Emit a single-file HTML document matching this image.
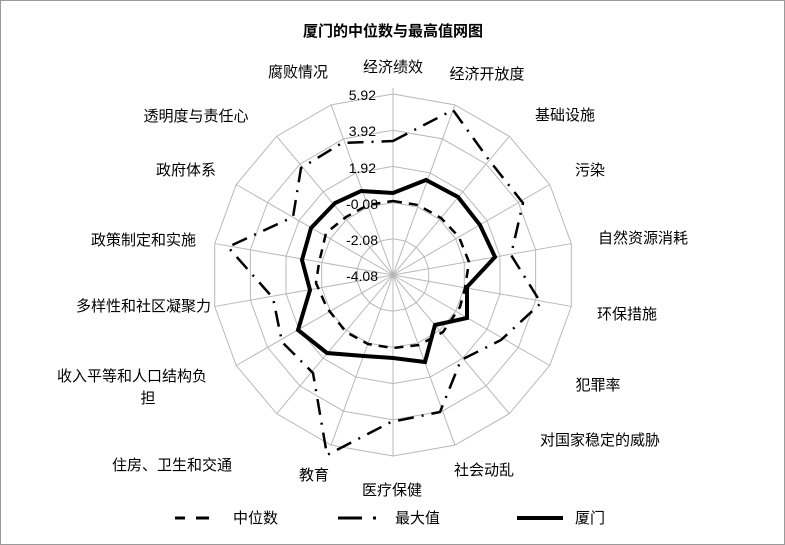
<!DOCTYPE html>
<html><head><meta charset="utf-8"><style>
html,body{margin:0;padding:0;background:#fff;}
svg{display:block;}
text{font-family:"Liberation Sans","Noto Sans CJK SC",sans-serif;fill:#000;}
</style></head><body>
<svg width="785" height="545" viewBox="0 0 785 545" xmlns="http://www.w3.org/2000/svg">
<rect x="0.5" y="0.5" width="784" height="544" fill="#fff" stroke="#999" stroke-width="1"/>
<text x="393" y="36" text-anchor="middle" font-size="15" font-weight="bold">厦门的中位数与最高值网图</text>
<g transform="translate(393,275)" fill="none" stroke="#b8b8b8" stroke-width="1">
<line x1="0" y1="0" x2="0" y2="-187" transform="rotate(0)"/>
<line x1="0" y1="0" x2="0" y2="-181" transform="rotate(20)"/>
<line x1="0" y1="0" x2="0" y2="-181" transform="rotate(40)"/>
<line x1="0" y1="0" x2="0" y2="-181" transform="rotate(60)"/>
<line x1="0" y1="0" x2="0" y2="-181" transform="rotate(80)"/>
<line x1="0" y1="0" x2="0" y2="-181" transform="rotate(100)"/>
<line x1="0" y1="0" x2="0" y2="-181" transform="rotate(120)"/>
<line x1="0" y1="0" x2="0" y2="-181" transform="rotate(140)"/>
<line x1="0" y1="0" x2="0" y2="-181" transform="rotate(160)"/>
<line x1="0" y1="0" x2="0" y2="-181" transform="rotate(180)"/>
<line x1="0" y1="0" x2="0" y2="-181" transform="rotate(200)"/>
<line x1="0" y1="0" x2="0" y2="-181" transform="rotate(220)"/>
<line x1="0" y1="0" x2="0" y2="-181" transform="rotate(240)"/>
<line x1="0" y1="0" x2="0" y2="-181" transform="rotate(260)"/>
<line x1="0" y1="0" x2="0" y2="-181" transform="rotate(280)"/>
<line x1="0" y1="0" x2="0" y2="-181" transform="rotate(300)"/>
<line x1="0" y1="0" x2="0" y2="-181" transform="rotate(320)"/>
<line x1="0" y1="0" x2="0" y2="-181" transform="rotate(340)"/>
<defs><polygon id="ring" points="0,-1 0.342,-0.94 0.643,-0.766 0.866,-0.5 0.985,-0.174 0.985,0.174 0.866,0.5 0.643,0.766 0.342,0.94 0,1 -0.342,0.94 -0.643,0.766 -0.866,0.5 -0.985,0.174 -0.985,-0.174 -0.866,-0.5 -0.643,-0.766 -0.342,-0.94"/></defs>
<use href="#ring" transform="scale(36.2)" stroke-width="0.0276"/>
<use href="#ring" transform="scale(72.4)" stroke-width="0.0138"/>
<use href="#ring" transform="scale(108.6)" stroke-width="0.0092"/>
<use href="#ring" transform="scale(144.8)" stroke-width="0.0069"/>
<use href="#ring" transform="scale(181)" stroke-width="0.00552"/>
</g>
<g font-size="14" text-anchor="end">
<text x="376" y="100">5.92</text>
<text x="376" y="136">3.92</text>
<text x="376" y="173">1.92</text>
<text x="378" y="209">-0.08</text>
<text x="378" y="245">-2.08</text>
<text x="378" y="281">-4.08</text>
</g>
<polygon fill="none" stroke="#000" stroke-width="2.5" stroke-dasharray="9,7" points="393,201 418,205 441,218 459,237 469,262 465,288 460,307 443,332 419,345 393,348 368,344 346,332 327,308 316,283 319,263 326,233 346,217 368,205"/>
<polygon fill="none" stroke="#000" stroke-width="2.5" stroke-dasharray="16,8,2,8" points="393,141 453,110 489,160 523,203 511,255 541,303 501,340 461,360 440,412 391,422 327,455 313,373 282,342 273,298 228,247 293,217 301,168 342,143"/>
<polygon fill="none" stroke="#000" stroke-width="4" points="393,193 426,180 458,197 480,225 495,257 467,287 467,318 435,325 425,362 393,358 364,356 327,353 298,330 310,290 302,260 311,228 335,203 361,191"/>
<g font-size="15">
<text x="393" y="72" text-anchor="middle">经济绩效</text>
<text x="487" y="79" text-anchor="middle">经济开放度</text>
<text x="565" y="120" text-anchor="middle">基础设施</text>
<text x="590" y="175" text-anchor="middle">污染</text>
<text x="643" y="243" text-anchor="middle">自然资源消耗</text>
<text x="627" y="319" text-anchor="middle">环保措施</text>
<text x="598" y="390" text-anchor="middle">犯罪率</text>
<text x="600" y="445" text-anchor="middle">对国家稳定的威胁</text>
<text x="484" y="475" text-anchor="middle">社会动乱</text>
<text x="392" y="495" text-anchor="middle">医疗保健</text>
<text x="314" y="480" text-anchor="middle">教育</text>
<text x="172" y="470" text-anchor="middle">住房、卫生和交通</text>
<text x="57" y="381">收入平等和人口结构负</text>
<text x="148" y="403" text-anchor="middle">担</text>
<text x="211" y="311" text-anchor="end">多样性和社区凝聚力</text>
<text x="196" y="245" text-anchor="end">政策制定和实施</text>
<text x="186" y="175" text-anchor="middle">政府体系</text>
<text x="196" y="121" text-anchor="middle">透明度与责任心</text>
<text x="298" y="77" text-anchor="middle">腐败情况</text>
</g>
<g stroke="#000" stroke-width="3">
<line x1="175" y1="518" x2="185" y2="518"/>
<line x1="196" y1="518" x2="209" y2="518"/>
<line x1="338" y1="518" x2="362" y2="518"/>
<line x1="373" y1="518" x2="376" y2="518"/>
<line x1="517" y1="518" x2="563" y2="518" stroke-width="4"/>
</g>
<g font-size="15">
<text x="233" y="523">中位数</text>
<text x="395" y="523">最大值</text>
<text x="575" y="523">厦门</text>
</g>
</svg>
</body></html>
